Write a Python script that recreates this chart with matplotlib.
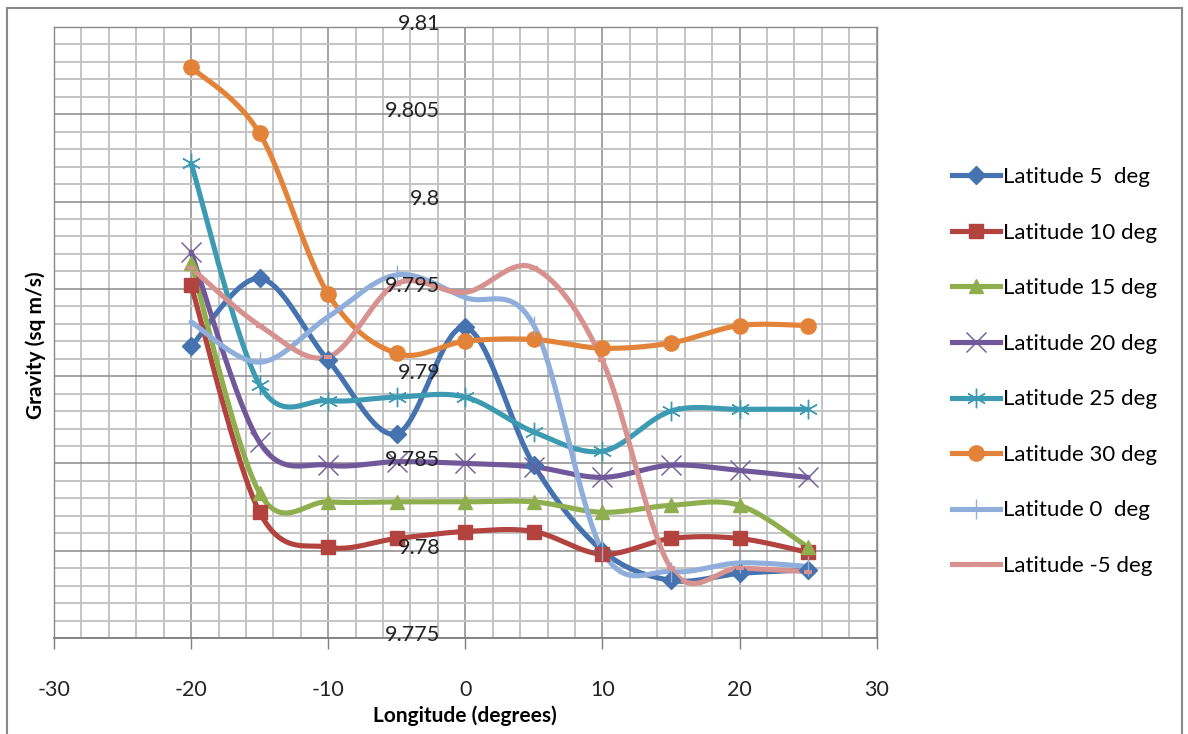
import numpy as np
import matplotlib
matplotlib.use("Agg")
import matplotlib.pyplot as plt
from matplotlib.patches import Rectangle
from matplotlib.ticker import MultipleLocator, FixedLocator

plt.rcParams['font.family'] = ['Lato', 'DejaVu Sans']
plt.rcParams['axes.unicode_minus'] = False

# ---- data ----
longitude = [-20, -15, -10, -5, 0, 5, 10, 15, 20, 25]
lat5 = [9.7917, 9.7956, 9.7909, 9.7867, 9.7928, 9.7849, 9.7800, 9.7783, 9.7787, 9.7789]
lat10 = [9.7952, 9.7822, 9.7802, 9.7807, 9.7811, 9.7811, 9.7798, 9.7807, 9.7807, 9.7799]
lat15 = [9.7965, 9.7833, 9.7828, 9.7828, 9.7828, 9.7828, 9.7822, 9.7826, 9.7826, 9.7802]
lat20 = [9.7971, 9.7862, 9.7849, 9.7851, 9.7850, 9.7848, 9.7842, 9.7849, 9.7846, 9.7842]
lat25 = [9.8022, 9.7895, 9.7886, 9.7888, 9.7888, 9.7868, 9.7857, 9.7880, 9.7881, 9.7881]
lat30 = [9.8077, 9.8039, 9.7947, 9.7913, 9.7920, 9.7921, 9.7916, 9.7919, 9.7929, 9.7929]
lat0 = [9.7931, 9.7908, 9.7934, 9.7958, 9.7945, 9.7929, 9.7800, 9.7788, 9.7793, 9.7791]
latm5 = [9.7962, 9.7929, 9.7911, 9.7953, 9.7948, 9.7962, 9.7909, 9.7790, 9.7790, 9.7788]

series_labels = ['Latitude 5  deg', 'Latitude 10 deg', 'Latitude 15 deg', 'Latitude 20 deg',
                 'Latitude 25 deg', 'Latitude 30 deg', 'Latitude 0  deg', 'Latitude -5 deg']
series_values = [lat5, lat10, lat15, lat20, lat25, lat30, lat0, latm5]
colors = ['#4573B0', '#B2433F', '#8FAE4E', '#71589A', '#3C9BB2', '#E3833A', '#8FAEDB', '#D79290']
markers = ['D', 's', '^', 'x', (6, 2, 0), 'o', '|', '_']
msizes = [9, 10, 10, 14, 14, 11, 14, 6]
mews = [1, 1, 1, 1, 1, 1, 1, 3]

y_ticks = [9.775, 9.78, 9.785, 9.79, 9.795, 9.8, 9.805, 9.81]
y_ticklabels = ['9.775', '9.78', '9.785', '9.79', '9.795', '9.8', '9.805', '9.81']
x_ticks = [-30, -20, -10, 0, 10, 20, 30]


def smooth(xs, ys, n=40):
    xs = np.asarray(xs, float)
    ys = np.asarray(ys, float)
    px = np.concatenate([[xs[0]], xs, [xs[-1]]])
    py = np.concatenate([[ys[0]], ys, [ys[-1]]])
    ox, oy = [], []
    t = np.linspace(0, 1, n)
    for i in range(1, len(px) - 2):
        p0x, p0y = px[i], py[i]
        p3x, p3y = px[i + 1], py[i + 1]
        p1x = p0x + (px[i + 1] - px[i - 1]) / 6
        p1y = p0y + (py[i + 1] - py[i - 1]) / 6
        p2x = p3x - (px[i + 2] - px[i]) / 6
        p2y = p3y - (py[i + 2] - py[i]) / 6
        bx = (1 - t) ** 3 * p0x + 3 * (1 - t) ** 2 * t * p1x + 3 * (1 - t) * t ** 2 * p2x + t ** 3 * p3x
        by = (1 - t) ** 3 * p0y + 3 * (1 - t) ** 2 * t * p1y + 3 * (1 - t) * t ** 2 * p2y + t ** 3 * p3y
        ox.extend(bx if i == 1 else bx[1:])
        oy.extend(by if i == 1 else by[1:])
    return np.array(ox), np.array(oy)


W, H = 1188, 734
fig = plt.figure(figsize=(W / 100, H / 100), dpi=100)
axw = 876.6 - 54
axh = 638 - 27
ax = fig.add_axes([54 / W, (H - 638) / H, axw / W, axh / H])

for vals, lab, c, m, ms, mew in zip(series_values, series_labels, colors, markers, msizes, mews):
    sx, sy = smooth(longitude, vals)
    ax.plot(sx, sy, color=c, lw=3.7, solid_capstyle='round', zorder=3)
    ax.plot(longitude, vals, ls='none', marker=m, ms=ms, color=c, mec=c, mew=mew, zorder=4)
    ax.plot([], [], color=c, lw=3.7, marker=m, ms=ms, mec=c, mew=mew, label=lab)

ax.set_xlim(-30, 30)
ax.set_ylim(9.775, 9.81)
ax.xaxis.set_major_locator(FixedLocator(x_ticks))
ax.xaxis.set_minor_locator(MultipleLocator(2))
ax.yaxis.set_major_locator(FixedLocator(y_ticks))
ax.yaxis.set_minor_locator(MultipleLocator(0.001))

ax.grid(which='minor', color='#c4c4c4', lw=1.4, zorder=0)
ax.grid(which='major', color='#8a8a8a', lw=1.1, zorder=1)
ax.set_axisbelow(True)

for s in ['top', 'right', 'left']:
    ax.spines[s].set_color('#8a8a8a')
    ax.spines[s].set_linewidth(1.0)
ax.spines['bottom'].set_color('#7f7f7f')
ax.spines['bottom'].set_linewidth(1.3)

ax.tick_params(axis='y', which='both', length=0, labelleft=False)
for yv, yl in zip(y_ticks, y_ticklabels):
    ax.annotate(yl, xy=(0, yv), xycoords='data', xytext=(-25, 3), textcoords='offset pixels',
                ha='right', va='center', fontsize=15.5, color='#222222', zorder=6,
                annotation_clip=False)

ax.tick_params(axis='x', which='major', length=8, width=1, color='#7f7f7f', direction='out',
               pad=22, labelsize=15.5, labelcolor='#222222')
ax.tick_params(axis='x', which='minor', length=0)

ax.set_xlabel('Longitude (degrees)', fontsize=15, fontweight='bold')
ax.xaxis.set_label_coords((465 - 54) / axw, -(705 - 638) / axh)
ax.set_ylabel('Gravity (sq m/s)', fontsize=15, fontweight='bold')
ax.yaxis.set_label_coords(-(54 - 46) / axw, (638 - 345) / axh)

leg = fig.legend(loc='center left', bbox_to_anchor=(941 / W, (H - 371.5) / H), frameon=False,
                 fontsize=16, labelspacing=1.6, handlelength=2.15, handletextpad=0.15,
                 borderpad=0, numpoints=1)

fig.patches.append(Rectangle((7 / W, -0.01), (1182 - 7) / W, (H - 8) / H + 0.01,
                             transform=fig.transFigure, fill=False, edgecolor='#8a8a8a', lw=1.5))

fig.savefig('out.png', dpi=100)
